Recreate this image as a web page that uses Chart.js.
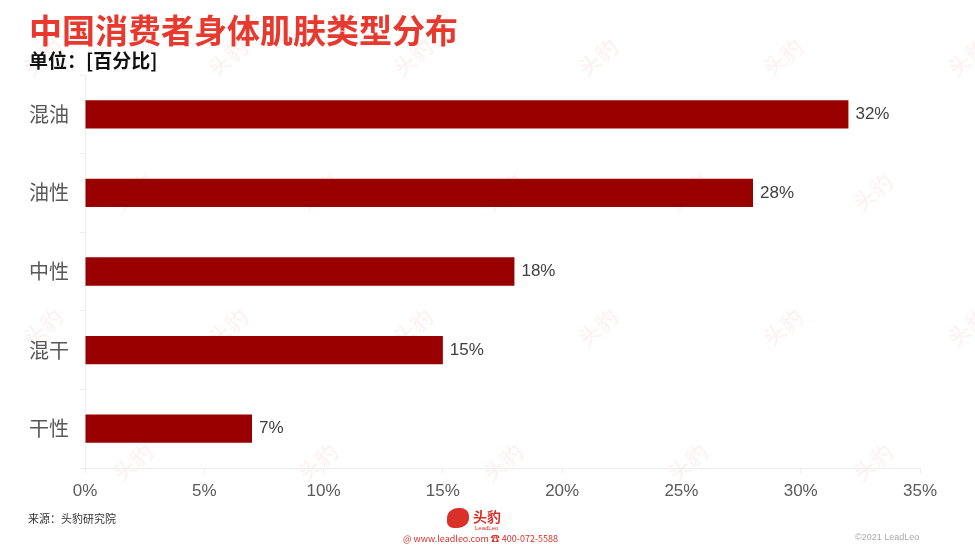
<!DOCTYPE html>
<html>
<head>
<meta charset="utf-8">
<script src="https://cdn.jsdelivr.net/npm/chart.js@4.4.1/dist/chart.umd.min.js"></script>
<style>
  html, body { margin: 0; padding: 0; background: #fff; }
  #wrap { position: relative; width: 975px; height: 548px; overflow: hidden; font-family: "Noto Sans CJK SC", sans-serif; }
  #barChart { position: absolute; left: 0; top: 0; }
  .title { position: absolute; left: 29px; top: 5px; font-size: 33px; font-weight: bold; color: #e8392f; white-space: nowrap; }
  .unit { position: absolute; left: 29px; top: 46px; font-size: 19px; font-weight: bold; color: #111; white-space: nowrap; }
  .source { position: absolute; left: 28px; top: 510px; font-size: 11px; color: #333; }
  .site { position: absolute; left: 403px; top: 532px; font-size: 9px; color: #d9302a; white-space: nowrap; }
  .copy { position: absolute; left: 855px; top: 532px; font-size: 9px; color: #aaa; font-family: "Liberation Sans", sans-serif; }
  .logo { position: absolute; left: 447px; top: 508px; white-space: nowrap; }
  .logo .ico { display: inline-block; width: 22px; height: 20px; background: #d9302a; border-radius: 50% 40% 50% 30%; vertical-align: top; }
  .logo .name { display: inline-block; margin-left: 4px; color: #d9302a; font-weight: bold; font-size: 14px; line-height: 16px; vertical-align: top; }
  .logo .sub { position: absolute; left: 28px; top: 17px; font-size: 6px; color: #d9302a; font-family: "Liberation Sans", sans-serif; }
  .wm { position: absolute; color: rgba(232, 57, 47, 0.06); font-weight: bold; font-size: 22px; transform: rotate(-40deg); white-space: nowrap; }
</style>
</head>
<body>
<div id="wrap">
  <div id="marks"></div>
  <canvas id="barChart" width="975" height="548"></canvas>
  <div class="title">中国消费者身体肌肤类型分布</div>
  <div class="unit">单位：[百分比]</div>
  <div class="source">来源：头豹研究院</div>
  <div class="logo"><span class="ico"></span><span class="name">头豹</span><span class="sub">LeadLeo</span></div>
  <div class="site">@ www.leadleo.com &#9742; 400-072-5588</div>
  <div class="copy">©2021 LeadLeo</div>
</div>
<script>
var categories = ["混油", "油性", "中性", "混干", "干性"];
var shares = [32, 28, 18, 15, 7];
var tickValues = [0, 5, 10, 15, 20, 25, 30, 35];

// faint watermarks in the background
var marks = document.getElementById("marks");
for (var r = 0; r < 4; r++) {
  for (var c = 0; c < 6; c++) {
    var m = document.createElement("div");
    m.className = "wm";
    m.textContent = "头豹";
    m.style.left = (20 + c * 185 + (r % 2) * 90) + "px";
    m.style.top = (40 + r * 135) + "px";
    marks.appendChild(m);
  }
}

var canvas = document.getElementById("barChart");
var ctx = canvas.getContext("2d");

var valueLabels = {
  id: "valueLabels",
  afterDatasetsDraw: function (chart) {
    var c = chart.ctx;
    var meta = chart.getDatasetMeta(0);
    c.save();
    c.font = '17px "Liberation Sans Narrow", "Liberation Sans", sans-serif';
    c.fillStyle = "#404040";
    c.textAlign = "left";
    c.textBaseline = "middle";
    meta.data.forEach(function (bar, i) {
      c.fillText(shares[i] + "%", bar.x + 7, bar.y);
    });
    c.restore();
  }
};

var data = {
  labels: categories,
  datasets: [{
    data: shares,
    backgroundColor: "#990000",
    borderColor: "#990000",
    borderWidth: 0,
    categoryPercentage: 1,
    barPercentage: 0.36
  }]
};

const config = {
  type: "bar",
  data: data,
  plugins: [valueLabels],
  options: {
    indexAxis: "y",
    responsive: false,
    animation: false,
    layout: { padding: { top: 75, right: 55, left: 0, bottom: 0 } },
    plugins: {
      legend: { display: false },
      tooltip: { enabled: false }
    },
    scales: {
      x: {
        min: 0,
        max: 35,
        afterBuildTicks: function (scale) {
          scale.ticks = tickValues.map(function (v) { return { value: v }; });
        },
        afterFit: function (scale) { scale.height = 80; },
        grid: { drawOnChartArea: false, drawTicks: true, tickLength: 5, color: "#eeeeee" },
        border: { color: "#eeeeee" },
        ticks: {
          padding: 8,
          color: "#595959",
          font: { family: '"Liberation Sans Narrow", "Liberation Sans", sans-serif', size: 17 },
          callback: function (v) { return v + "%"; }
        }
      },
      y: {
        afterFit: function (scale) { scale.width = 85; },
        grid: { offset: true, drawOnChartArea: false, drawTicks: true, tickLength: 5, color: "#eeeeee" },
        border: { color: "#eeeeee" },
        ticks: {
          padding: 11,
          color: "#595959",
          font: { family: '"Noto Sans CJK SC", sans-serif', size: 20 }
        }
      }
    }
  }
};

var chart = new Chart(canvas, config);
</script>
</body>
</html>
